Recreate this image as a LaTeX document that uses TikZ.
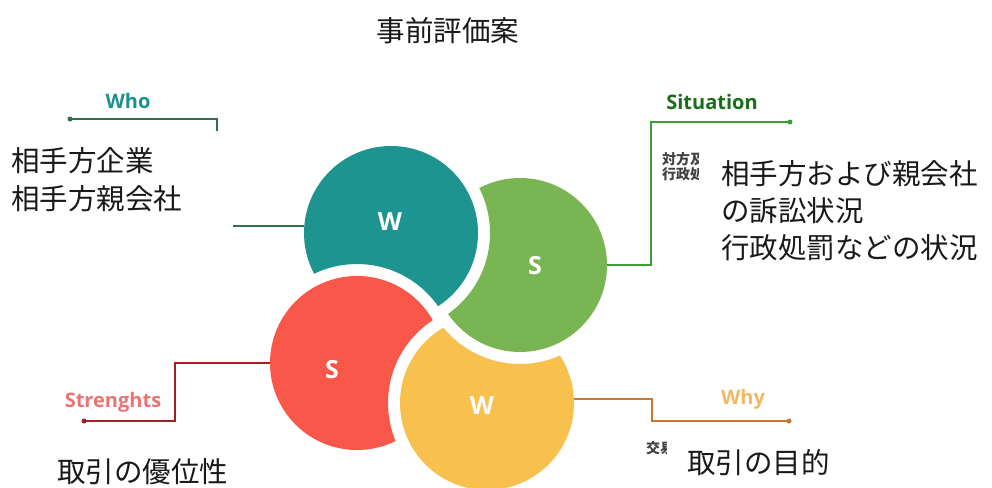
\documentclass[tikz,border=0pt]{standalone}
\usepackage{fontspec}
\setmainfont{Open Sans}
\newfontfamily\jp{Noto Sans CJK JP}
\definecolor{cteal}{HTML}{1E9490}
\definecolor{cgreen}{HTML}{7AB554}
\definecolor{cred}{HTML}{F8574A}
\definecolor{cyellow}{HTML}{F8C04C}
\definecolor{whotxt}{HTML}{1A9090}
\definecolor{wholine}{HTML}{2E7050}
\definecolor{sittxt}{HTML}{1A6E1A}
\definecolor{sitline}{HTML}{3AA035}
\definecolor{strtxt}{HTML}{E87575}
\definecolor{strline}{HTML}{A31D24}
\definecolor{whytxt}{HTML}{F2B866}
\definecolor{whyline}{HTML}{C8772E}
\definecolor{smalltxt}{HTML}{404040}
\tikzset{
  lettr/.style={text=white, font=\fontsize{25}{27}\selectfont\bfseries, inner sep=0},
  headtxt/.style={font=\fontsize{20}{22}\selectfont\bfseries, inner sep=0},
  bigtxt/.style={font=\jp\fontsize{28.5}{30}\selectfont, inner sep=0, anchor=west, text=black!90},
  smtxt/.style={font=\jp\bfseries\fontsize{14}{15}\selectfont, inner sep=0, anchor=west, text=smalltxt},
  conn/.style={line width=1.6pt},
  ring/.style={circle, minimum size=174pt, inner sep=0, draw=none},
  dotc/.style={circle, fill, inner sep=0, minimum size=5pt},
}
\begin{document}
\begin{tikzpicture}[x=1pt,y=-1pt]
\useasboundingbox (0,0) rectangle (992,487);
\def\rr{87}
\def\rf{90}
\def\rg{99}
\coordinate (T) at (391,233);
\coordinate (G) at (520,265);
\coordinate (R) at (357,363);
\coordinate (Y) at (487,403);
% circles, each cut by the next one (cyclic)
\begin{scope}
  \clip (G) circle[radius=\rr];
  \fill[cgreen, even odd rule] (G) circle[radius=\rf] (T) circle[radius=\rg];
\end{scope}
\begin{scope}
  \clip (T) circle[radius=\rr];
  \fill[cteal, even odd rule] (T) circle[radius=\rf] (R) circle[radius=\rg];
\end{scope}
\begin{scope}
  \clip (R) circle[radius=\rr];
  \fill[cred, even odd rule] (R) circle[radius=\rf] (Y) circle[radius=\rg];
\end{scope}
\begin{scope}
  \clip (Y) circle[radius=\rr];
  \fill[cyellow, even odd rule] (Y) circle[radius=\rf] (G) circle[radius=\rg];
\end{scope}
\node[ring] (tealc) at (T) {};
\node[ring] (greenc) at (G) {};
\node[ring] (redc) at (R) {};
\node[ring] (yellowc) at (Y) {};
% letters
\node[lettr] (l1) at (390,222) {W};
\node[lettr] (l2) at (535,266) {S};
\node[lettr] (l3) at (332,370) {S};
\node[lettr] (l4) at (482,406) {W};
% title
\node[bigtxt, anchor=center] (title) at (448,31) {事前評価案};
% Who
\node[headtxt, text=whotxt] (who) at (128,101) {Who};
\node[dotc, wholine] (whodot) at (70,119) {};
\coordinate (whobend) at (217,119);
\coordinate (whoend) at (217,131);
\draw[conn, wholine] (whodot.center) -- (whobend) -- (whoend);
\coordinate (whostart) at (233,226);
\draw[conn, wholine] (whostart) -- (whostart -| tealc.west);
\node[bigtxt] (who1) at (11,161) {相手方企業};
\node[bigtxt] (who2) at (11,199) {相手方親会社};
% Situation
\node[headtxt, text=sittxt] (sit) at (712,102) {Situation};
\node[dotc, sitline] (sitdot) at (790,122) {};
\coordinate (sitb1) at (651,122);
\coordinate (sitb2) at (651,265);
\draw[conn, sitline] (sitdot.center) -- (sitb1) -- (sitb2) -- (greenc.east);
\begin{scope}
  \clip (655,140) rectangle (698,190);
  \node[smtxt] (sits1) at (662,159) {対方及};
  \node[smtxt] (sits2) at (662,174) {行政処};
\end{scope}
\node[bigtxt] (sit1) at (721,174) {相手方および親会社};
\node[bigtxt] (sit2) at (721,211) {の訴訟状況};
\node[bigtxt] (sit3) at (721,248) {行政処罰などの状況};
% Strenghts
\node[headtxt, text=strtxt] (str) at (113,402) {Strenghts};
\node[dotc, strline] (strdot) at (84,421) {};
\coordinate (strb1) at (175,421);
\coordinate (strb2) at (175,363);
\draw[conn, strline] (strdot.center) -- (strb1) -- (strb2) -- (redc.west);
\node[bigtxt] (str1) at (57,472) {取引の優位性};
% Why
\node[headtxt, text=whytxt] (why) at (743,399) {Why};
\node[dotc, whyline] (whydot) at (789,421) {};
\coordinate (whyb1) at (652,399);
\coordinate (whyb2) at (652,421);
\draw[conn, whyline] (whyb1 -| yellowc.east) -- (whyb1) -- (whyb2) -- (whydot.center);
\begin{scope}
  \clip (640,435) rectangle (666,460);
  \node[smtxt] (whys1) at (646,448) {交易};
\end{scope}
\node[bigtxt] (why1) at (687,463) {取引の目的};
\end{tikzpicture}
\end{document}
